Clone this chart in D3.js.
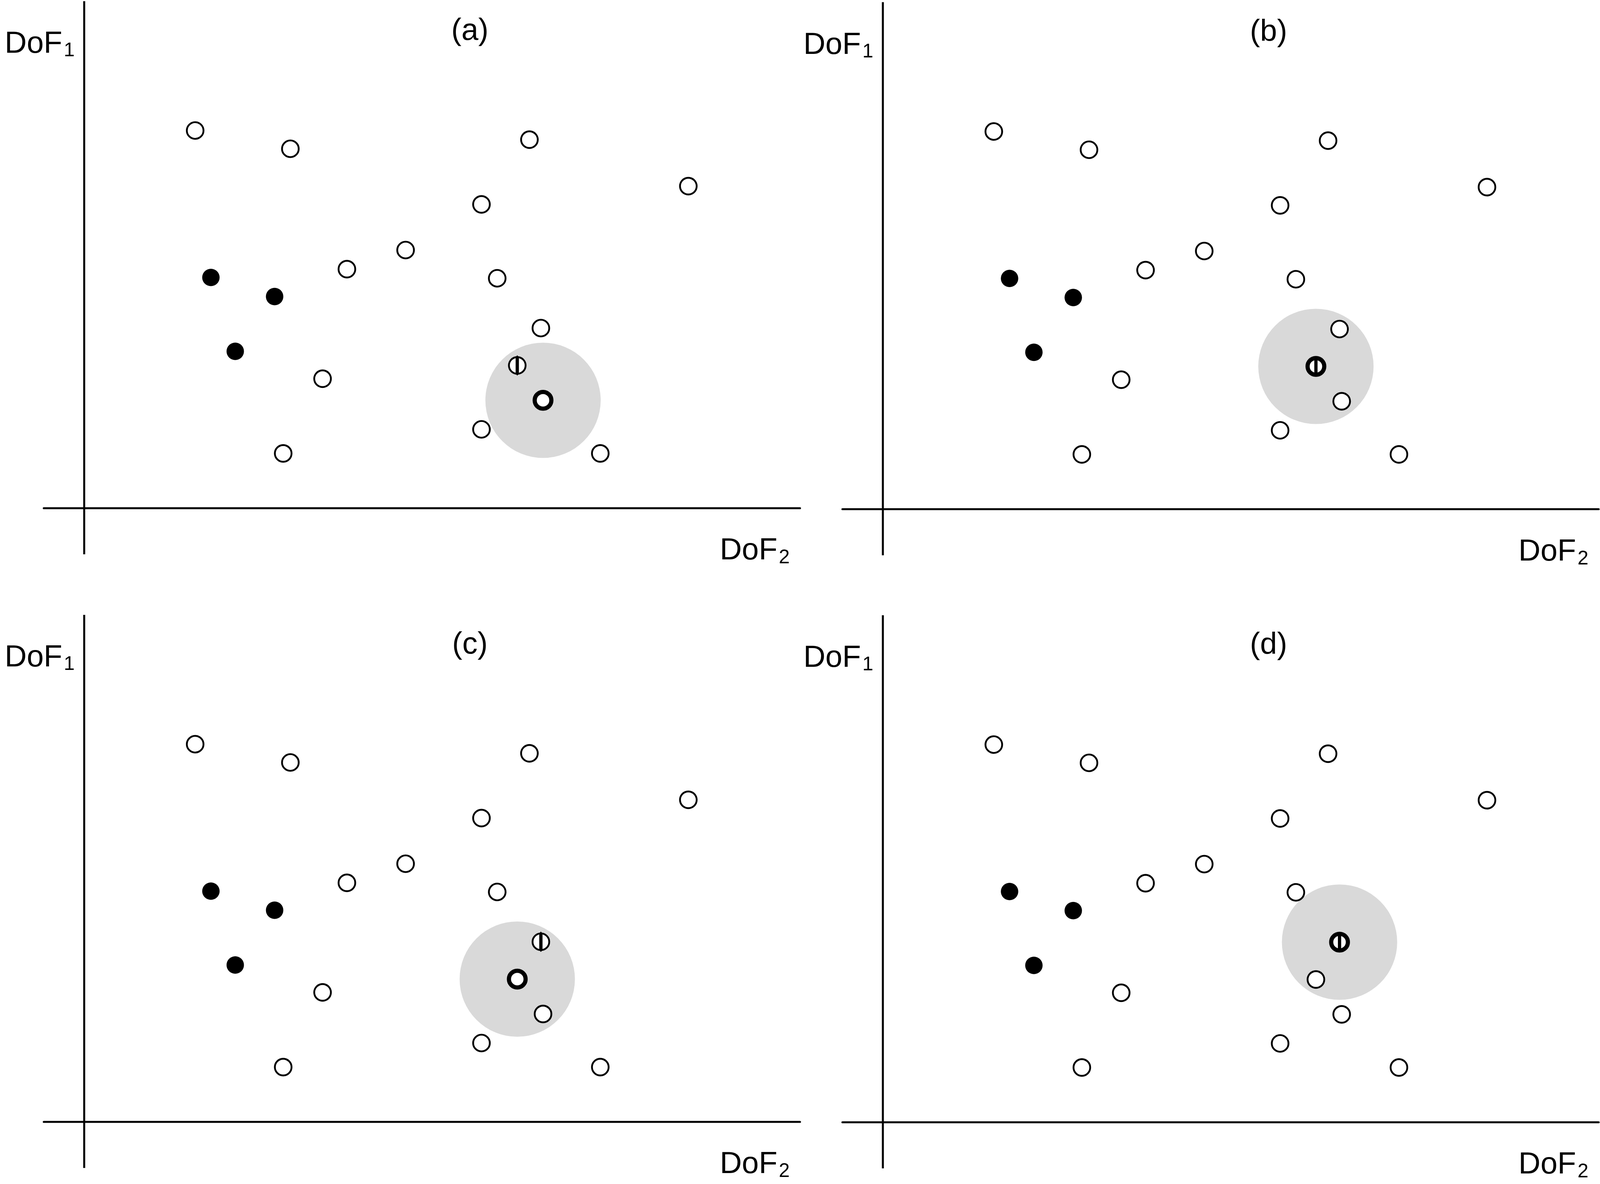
<!DOCTYPE html>
<html>
<head>
<meta charset="utf-8">
<script src="https://cdn.jsdelivr.net/npm/d3@7"></script>
<style>
  html, body { margin: 0; padding: 0; background: #fff; width: 100%; height: 100%; overflow: hidden; }
  svg { display: block; position: fixed; left: 0; top: 0; }
</style>
</head>
<body>
<svg id="chart"></svg>
<script>
// ---- data (DoF2 = horizontal, DoF1 = vertical, arbitrary units) ----
const pointX = [15.5, 28.8, 62.2, 84.4, 55.5, 44.9, 36.7, 57.7, 63.8, 60.5, 64.1, 33.3, 27.8, 55.5, 72.1, 17.7, 26.6, 21.1];
const pointY = [45.5, 43.3, 44.4, 38.8, 36.6, 31.1, 28.8, 27.7, 21.7, 17.2, 13.0, 15.6, 6.6, 9.5, 6.6, 27.8, 25.5, 18.9];
const pointFilled = [0,0,0,0,0,0,0,0,0,0,0,0,0,0,0,1,1,1];

const panelLabels = ["(a)", "(b)", "(c)", "(d)"];
const panelQuery = [10, 9, 9, 8];     // point with the thick ring and neighbourhood
const panelStriped = [9, 9, 8, 8];    // point marked with a vertical bar
const neighbourRadius = 7.48;

const axisXName = ["DoF", "2"];
const axisYName = ["DoF", "1"];

// ---- layout (designed on a 4750 x 3031 canvas, mapped to the actual window) ----
const BW = 4750, BH = 3031;
const W = window.innerWidth || BW, H = window.innerHeight || BH;
const sx = W / BW, sy = H / BH, k = Math.sqrt(sx * sy);

const origins = [[250, 1301], [2621, 1303.5], [250, 2872], [2621, 2873]];
const unit = 21.25;
const x = d3.scaleLinear().domain([0, 100]).range([0, 100 * unit * sx]);
const y = d3.scaleLinear().domain([0, 100]).range([0, -100 * unit * sy]);
const xAxisExtent = [-5.65, 100];
const yAxisExtent = [-5.55, 61.08];

const svg = d3.select("#chart").attr("width", W).attr("height", H);
const font = "'Liberation Sans', Arial, sans-serif";
const pts = pointX.map((v, i) => ({ i, x: v, y: pointY[i], filled: pointFilled[i] }));

svg.append("rect").attr("width", W).attr("height", H).attr("fill", "#fff");

origins.forEach((o, p) => {
  const g = svg.append("g").attr("transform", `translate(${o[0] * sx},${o[1] * sy})`);

  // axes
  g.append("line")
    .attr("x1", x(xAxisExtent[0])).attr("x2", x(xAxisExtent[1]))
    .attr("y1", y(0)).attr("y2", y(0))
    .attr("stroke", "#000").attr("stroke-width", 5.5 * k).attr("stroke-linecap", "round");
  g.append("line")
    .attr("x1", x(0)).attr("x2", x(0))
    .attr("y1", y(yAxisExtent[0])).attr("y2", y(yAxisExtent[1]))
    .attr("stroke", "#000").attr("stroke-width", 5.5 * k);

  // labels
  const ly = g.append("text").attr("x", -236 * sx).attr("y", -1166 * sy)
    .attr("font-family", font).attr("font-size", 84 * k).attr("fill", "#000");
  ly.append("tspan").text(axisYName[0]);
  ly.append("tspan").attr("font-size", 54 * k).attr("dy", 10 * k).attr("dx", 4 * k).text(axisYName[1]);

  const lx = g.append("text").attr("x", 1887 * sx).attr("y", 131 * sy)
    .attr("font-family", font).attr("font-size", 84 * k).attr("fill", "#000");
  lx.append("tspan").text(axisXName[0]);
  lx.append("tspan").attr("font-size", 54 * k).attr("dy", 11 * k).attr("dx", 4 * k).text(axisXName[1]);

  g.append("text").attr("x", 1145 * sx).attr("y", -1199 * sy)
    .attr("text-anchor", "middle")
    .attr("font-family", font).attr("font-size", 84 * k).attr("fill", "#000")
    .text(panelLabels[p]);

  // neighbourhood
  const q = pts[panelQuery[p]];
  g.append("circle")
    .attr("cx", x(q.x)).attr("cy", y(q.y))
    .attr("r", neighbourRadius * unit * k)
    .attr("fill", "#d9d9d9");

  // points
  pts.forEach(d => {
    const cx = x(d.x), cy = y(d.y);
    const isQuery = d.i === panelQuery[p];
    const isStriped = d.i === panelStriped[p];
    if (d.filled) {
      g.append("circle").attr("cx", cx).attr("cy", cy).attr("r", 24 * k).attr("fill", "#000");
      return;
    }
    if (isQuery) {
      g.append("circle").attr("cx", cx).attr("cy", cy).attr("r", 23 * k).attr("fill", "#fff");
      if (isStriped) {
        g.append("line").attr("x1", cx).attr("x2", cx).attr("y1", cy - 19 * k).attr("y2", cy + 19 * k)
          .attr("stroke", "#000").attr("stroke-width", 9 * k);
      }
      g.append("circle").attr("cx", cx).attr("cy", cy).attr("r", 23 * k)
        .attr("fill", "none").attr("stroke", "#000").attr("stroke-width", 11.5 * k);
    } else {
      g.append("circle").attr("cx", cx).attr("cy", cy).attr("r", 23 * k)
        .attr("fill", "#fff").attr("stroke", "#000").attr("stroke-width", 5 * k);
      if (isStriped) {
        const a = 4.5 * k, b = 23 * k, c = 28 * k;
        g.append("path")
          .attr("d", `M${cx - a},${cy - b} L${cx},${cy - c} L${cx + a},${cy - b} L${cx + a},${cy + b} L${cx},${cy + c} L${cx - a},${cy + b} Z`)
          .attr("fill", "#000");
      }
    }
  });
});
</script>
</body>
</html>
